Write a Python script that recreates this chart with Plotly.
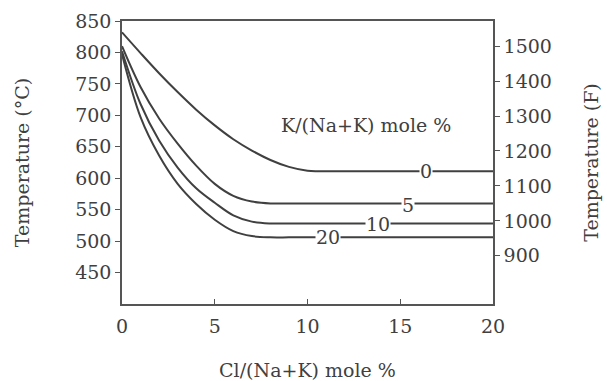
import plotly.graph_objects as go

# Data
cl_pct = [0, 1, 2, 3, 4, 5, 6, 7, 8, 9, 10, 12, 16, 20]
k0 = [832, 799, 767, 737, 709, 684, 662, 644, 629, 618, 612, 611, 611, 611]
k5 = [810, 745, 695, 655, 620, 591, 572, 563, 560, 560, 560, 560, 560, 560]
k10 = [802, 718, 660, 617, 584, 561, 541, 531, 528, 528, 528, 528, 528, 528]
k20 = [797, 697, 636, 591, 559, 534, 516, 508, 506, 506, 506, 506, 506, 506]

series = [("0", k0), ("5", k5), ("10", k10), ("20", k20)]
label_x = {"0": 16.4, "5": 15.4, "10": 13.8, "20": 11.1}
label_y = {"0": 611, "5": 558, "10": 528, "20": 506}

c_ticks = [450, 500, 550, 600, 650, 700, 750, 800, 850]
f_ticks = [900, 1000, 1100, 1200, 1300, 1400, 1500]
x_ticks = [0, 5, 10, 15, 20]

FONT = "DejaVu Serif"
FS = 19
INK = "#404040"
AX = "#555555"

fig = go.Figure()
for name, ys in series:
    fig.add_trace(go.Scatter(
        x=cl_pct, y=ys, mode="lines", name=name,
        line=dict(color="#404040", width=2, shape="spline", smoothing=1.0),
        showlegend=False, hoverinfo="skip"))

# invisible trace to activate the secondary (F) axis
fig.add_trace(go.Scatter(x=[None], y=[None], yaxis="y2", showlegend=False))

for name, _ in series:
    fig.add_annotation(x=label_x[name], y=label_y[name], text=name,
                       showarrow=False, bgcolor="white", borderpad=0,
                       font=dict(family=FONT, size=FS, color=INK))

fig.add_annotation(x=13.15, y=684, text="K/(Na+K) mole %", showarrow=False,
                   font=dict(family=FONT, size=FS, color=INK))

fig.update_layout(
    width=607, height=381,
    margin=dict(l=122, r=114, t=21, b=77),
    paper_bgcolor="white", plot_bgcolor="white",
    font=dict(family=FONT, size=FS, color=INK),
    xaxis=dict(range=[0, 20], tickvals=x_ticks, ticks="inside", ticklen=5,
               tickcolor=AX, showline=True, linecolor=AX, linewidth=1.5,
               mirror=True, showgrid=False, zeroline=False, automargin=False,
               ticklabelstandoff=4,
               title=dict(text="Cl/(Na+K) mole %", standoff=30,
                          font=dict(family=FONT, size=FS, color=INK)),
               tickfont=dict(family=FONT, size=FS, color=INK)),
    yaxis=dict(range=[400, 850], tickvals=c_ticks, ticks="outside", ticklen=5,
               tickcolor=AX, showline=True, linecolor=AX, linewidth=1.5,
               showgrid=False, zeroline=False, automargin=False,
               title=dict(text="Temperature (°C)", standoff=41,
                          font=dict(family=FONT, size=FS, color=INK)),
               tickfont=dict(family=FONT, size=FS, color=INK)),
    yaxis2=dict(range=[762, 1572], tickvals=f_ticks, ticks="outside", ticklen=5,
                tickcolor=AX, showline=True, linecolor=AX, linewidth=1.5,
                overlaying="y", side="right", showgrid=False, zeroline=False,
                automargin=False,
                title=dict(text="Temperature (F)", standoff=34,
                           font=dict(family=FONT, size=FS, color=INK)),
                tickfont=dict(family=FONT, size=FS, color=INK)),
)

fig.write_html("out.html",
               config={"displayModeBar": False},
               post_script="document.body.style.margin='0';document.body.style.overflow='hidden';")
